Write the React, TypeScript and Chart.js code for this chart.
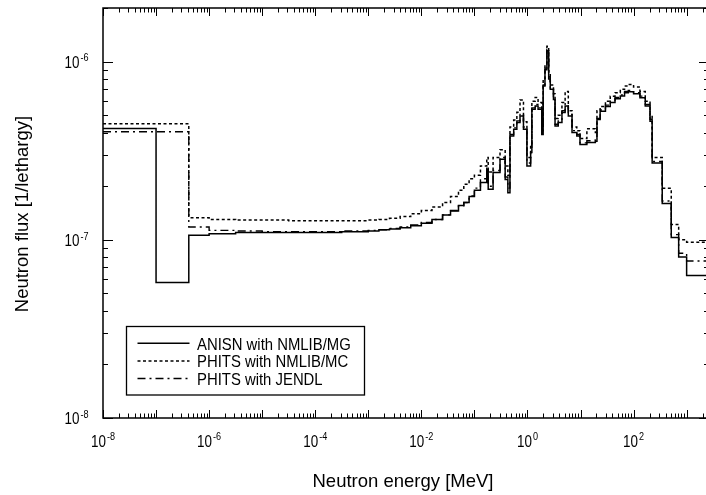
import React, { useEffect, useRef } from "react";
import { Chart, registerables } from "chart.js";

Chart.register(...registerables);

// Energy group boundaries [MeV]
const energyBounds: number[] = [
  1e-8, 1e-7, 4.14e-7, 1e-6, 3.16e-6, 1e-5, 3.16e-5, 1e-4, 3.16e-4, 1e-3,
  1.585e-3, 2.512e-3, 3.981e-3, 6.31e-3, 1e-2, 1.585e-2, 2.512e-2, 3.548e-2, 5.012e-2, 6.31e-2, 7.943e-2,
  0.1, 0.13, 0.171, 0.182, 0.225, 0.304, 0.38, 0.427, 0.468, 0.55, 0.631, 0.724, 0.841, 0.977,
  1.148, 1.211, 1.396, 1.585, 1.862, 1.977, 2.138, 2.323, 2.512, 2.692, 3.09, 3.311, 3.802, 4.467,
  5.129, 5.888, 6.918, 8.511, 9.772,
  13.18, 19.05, 20.42, 23.44, 29.51, 36.31, 44.67, 56.23, 67.61, 79.43, 100,
  131.8, 166.0, 204.2, 223.9, 346.7, 512.9, 707.9, 1000, 3000,
];

// Group fluxes [1/lethargy]
const anisnFlux: number[] = [
  4.22e-7, 0.576e-7, 1.06e-7, 1.08e-7, 1.1e-7, 1.1e-7, 1.1e-7, 1.1e-7, 1.11e-7, 1.12e-7,
  1.14e-7, 1.15e-7, 1.17e-7, 1.2e-7, 1.24e-7, 1.3e-7, 1.38e-7, 1.45e-7, 1.56e-7, 1.62e-7, 1.75e-7,
  1.9e-7, 2.1e-7, 2.49e-7, 1.92e-7, 2.39e-7, 2.83e-7, 2.18e-7, 1.84e-7, 3.82e-7, 4.17e-7, 4.56e-7, 4.95e-7, 4.17e-7,
  2.6e-7, 3.09e-7, 5.4e-7, 5.63e-7, 5.4e-7, 3.9e-7, 7.3e-7, 9.0e-7, 11.5e-7, 8.0e-7, 7.0e-7, 6.14e-7, 4.35e-7,
  4.56e-7, 5.19e-7, 5.63e-7, 4.95e-7, 4.0e-7, 3.82e-7,
  3.43e-7, 3.52e-7, 3.58e-7, 4.73e-7, 5.27e-7, 5.6e-7, 5.9e-7, 6.2e-7, 6.41e-7, 6.7e-7, 6.78e-7,
  6.6e-7, 6.28e-7, 5.63e-7, 4.63e-7, 2.7e-7, 1.6e-7, 1.03e-7, 0.8e-7, 0.63e-7,
];

const phitsNmlibFlux: number[] = [
  4.48e-7, 4.48e-7, 1.33e-7, 1.3e-7, 1.29e-7, 1.29e-7, 1.28e-7, 1.28e-7, 1.28e-7, 1.29e-7,
  1.3e-7, 1.32e-7, 1.35e-7, 1.4e-7, 1.46e-7, 1.53e-7, 1.62e-7, 1.75e-7, 1.9e-7, 2.05e-7, 2.2e-7,
  2.3e-7, 2.6e-7, 2.9e-7, 2.4e-7, 2.9e-7, 3.2e-7, 2.6e-7, 2.3e-7, 4.3e-7, 4.7e-7, 5.2e-7, 6.1e-7, 4.6e-7,
  2.9e-7, 3.4e-7, 6.0e-7, 6.3e-7, 5.9e-7, 4.3e-7, 7.9e-7, 9.6e-7, 12.2e-7, 8.6e-7, 7.4e-7, 6.6e-7, 4.8e-7,
  5.0e-7, 5.9e-7, 6.8e-7, 5.3e-7, 4.3e-7, 4.1e-7,
  3.7e-7, 4.2e-7, 4.0e-7, 5.3e-7, 5.6e-7, 6.0e-7, 6.4e-7, 6.7e-7, 7.0e-7, 7.3e-7, 7.45e-7,
  7.2e-7, 6.8e-7, 6.0e-7, 5.0e-7, 2.9e-7, 1.95e-7, 1.22e-7, 1.0e-7, 0.97e-7,
];

const phitsJendlFlux: number[] = [
  4.04e-7, 4.04e-7, 1.18e-7, 1.13e-7, 1.12e-7, 1.11e-7, 1.11e-7, 1.11e-7, 1.12e-7, 1.13e-7,
  1.14e-7, 1.16e-7, 1.18e-7, 1.21e-7, 1.25e-7, 1.3e-7, 1.38e-7, 1.46e-7, 1.55e-7, 1.62e-7, 1.76e-7,
  1.95e-7, 2.2e-7, 2.55e-7, 2.0e-7, 2.45e-7, 2.9e-7, 2.25e-7, 1.95e-7, 3.9e-7, 4.25e-7, 4.65e-7, 5.1e-7, 4.3e-7,
  2.7e-7, 3.2e-7, 5.5e-7, 5.75e-7, 5.5e-7, 4.0e-7, 7.4e-7, 9.2e-7, 11.7e-7, 8.2e-7, 7.1e-7, 6.3e-7, 4.45e-7,
  4.7e-7, 5.3e-7, 5.8e-7, 5.05e-7, 4.1e-7, 3.9e-7,
  3.5e-7, 3.6e-7, 3.65e-7, 4.8e-7, 5.35e-7, 5.7e-7, 6.0e-7, 6.3e-7, 6.5e-7, 6.8e-7, 6.9e-7,
  6.7e-7, 6.4e-7, 5.75e-7, 4.75e-7, 2.75e-7, 1.65e-7, 1.07e-7, 0.84e-7, 0.76e-7,
];

const seriesLabels = ["ANISN with NMLIB/MG", "PHITS with NMLIB/MC", "PHITS with JENDL"];
const xLabelExponents = [-8, -6, -4, -2, 0, 2];
const yLabelExponents = [-8, -7, -6];
const xTitle = "Neutron energy [MeV]";
const yTitle = "Neutron flux [1/lethargy]";

const X_MIN = 1e-8;
const X_MAX = 2.64e3;
const Y_MIN = 1e-8;
const Y_MAX = 2e-6;

const FONT = "'Liberation Sans', Arial, Helvetica, sans-serif";

function steps(bounds: number[], vals: number[]) {
  const pts: { x: number; y: number }[] = [];
  for (let i = 0; i < vals.length; i++) {
    pts.push({ x: bounds[i], y: vals[i] });
    pts.push({ x: bounds[i + 1], y: vals[i] });
  }
  return pts;
}

function drawNarrow(ctx: CanvasRenderingContext2D, text: string, x: number, y: number, size: number, sx: number) {
  ctx.save();
  ctx.translate(x, y);
  ctx.scale(sx, 1);
  ctx.font = `${size}px ${FONT}`;
  ctx.textAlign = "left";
  ctx.textBaseline = "alphabetic";
  ctx.fillText(text, 0, 0);
  ctx.restore();
}
function narrowWidth(ctx: CanvasRenderingContext2D, text: string, size: number, sx: number) {
  ctx.save();
  ctx.font = `${size}px ${FONT}`;
  const w = ctx.measureText(text).width * sx;
  ctx.restore();
  return w;
}

const BASE = 17, SUP = 11.5, SX = 0.79;

function powLabel(ctx: CanvasRenderingContext2D, exp: number, x: number, baseY: number, align: "center" | "right") {
  const b = "10";
  const e = String(exp);
  const wb = narrowWidth(ctx, b, BASE, SX);
  const we = narrowWidth(ctx, e, SUP, SX);
  const total = wb + 1 + we;
  const left = align === "center" ? x - total / 2 : x - total;
  drawNarrow(ctx, b, left, baseY, BASE, SX);
  drawNarrow(ctx, e, left + wb + 1, baseY - 6.5, SUP, SX);
}

const framePlugin = {
  id: "framePlugin",
  afterDatasetsDraw(chart: any) {
    const { ctx, chartArea: a, scales } = chart;
    const xs = scales.x;
    const ys = scales.y;
    ctx.save();
    ctx.strokeStyle = "#000";
    ctx.fillStyle = "#000";
    ctx.setLineDash([]);
    // frame
    ctx.lineWidth = 1.5;
    ctx.strokeRect(a.left, a.top, a.right - a.left, a.bottom - a.top);
    ctx.lineWidth = 1;
    const seg = (x1: number, y1: number, x2: number, y2: number) => {
      ctx.beginPath();
      ctx.moveTo(x1, y1);
      ctx.lineTo(x2, y2);
      ctx.stroke();
    };
    // x ticks
    for (let e = -9; e <= 4; e++) {
      for (let m = 1; m <= 9; m++) {
        const v = m * Math.pow(10, e);
        if (v < X_MIN * 0.999 || v > X_MAX) continue;
        const px = Math.round(xs.getPixelForValue(v)) + 0.5;
        const len = m === 1 ? 8 : 4.5;
        seg(px, a.bottom, px, a.bottom - len);
        seg(px, a.top, px, a.top + len);
      }
    }
    // y ticks
    for (let e = -9; e <= -5; e++) {
      for (let m = 1; m <= 9; m++) {
        const v = m * Math.pow(10, e);
        if (v < Y_MIN * 0.999 || v > Y_MAX * 1.001) continue;
        const py = Math.round(ys.getPixelForValue(v)) + 0.5;
        const len = m === 1 ? 10 : 5;
        seg(a.left, py, a.left + len, py);
        seg(a.right, py, a.right - len, py);
      }
    }
    // tick labels
    for (const e of xLabelExponents) {
      const px = xs.getPixelForValue(Math.pow(10, e));
      powLabel(ctx, e, px, a.bottom + 28.8, "center");
    }
    for (const e of yLabelExponents) {
      const py = ys.getPixelForValue(Math.pow(10, e));
      powLabel(ctx, e, 88.5, py + 6.2, "right");
    }
    // axis titles
    ctx.font = `18.5px ${FONT}`;
    ctx.textAlign = "center";
    ctx.textBaseline = "alphabetic";
    ctx.fillText(xTitle, 403, 486.5);
    ctx.save();
    ctx.translate(27.5, 214);
    ctx.rotate(-Math.PI / 2);
    ctx.fillText(yTitle, 0, 0);
    ctx.restore();

    // legend
    const bx = 126.5, by = 326.5, bw = 238, bh = 68.5;
    ctx.fillStyle = "#fff";
    ctx.fillRect(bx, by, bw, bh);
    ctx.fillStyle = "#000";
    ctx.lineWidth = 1.3;
    ctx.strokeRect(bx, by, bw, bh);
    const rows = [343.3, 361, 378.5];
    chart.data.datasets.forEach((ds: any, i: number) => {
      const ry = rows[i];
      ctx.save();
      ctx.lineWidth = ds.borderWidth;
      ctx.setLineDash(ds.borderDash || []);
      ctx.beginPath();
      ctx.moveTo(137.5, ry);
      ctx.lineTo(189.5, ry);
      ctx.stroke();
      ctx.restore();
      drawNarrow(ctx, ds.label, 197, ry + 6.2, 17, 0.875);
    });
    ctx.restore();
  },
};

export default function App() {
  const ref = useRef<HTMLCanvasElement | null>(null);
  useEffect(() => {
    if (!ref.current) return;
    const chart = new Chart(ref.current, {
      type: "line",
      data: {
        datasets: [
          {
            label: seriesLabels[0],
            data: steps(energyBounds, anisnFlux),
            borderColor: "#000",
            borderWidth: 1.5,
            borderDash: [],
            pointRadius: 0,
            tension: 0,
            fill: false,
          },
          {
            label: seriesLabels[1],
            data: steps(energyBounds, phitsNmlibFlux),
            borderColor: "#000",
            borderWidth: 1.5,
            borderDash: [3, 2.5],
            pointRadius: 0,
            tension: 0,
            fill: false,
          },
          {
            label: seriesLabels[2],
            data: steps(energyBounds, phitsJendlFlux),
            borderColor: "#000",
            borderWidth: 1.4,
            borderDash: [8, 4, 2, 4],
            pointRadius: 0,
            tension: 0,
            fill: false,
          },
        ],
      },
      options: {
        responsive: false,
        animation: false,
        devicePixelRatio: 1,
        layout: { padding: { left: 103, right: 3, top: 8, bottom: 77 } },
        plugins: { legend: { display: false }, tooltip: { enabled: false } },
        scales: {
          x: { type: "logarithmic", min: X_MIN, max: X_MAX, display: false },
          y: { type: "logarithmic", min: Y_MIN, max: Y_MAX, display: false },
        },
      },
      plugins: [framePlugin],
    });
    return () => chart.destroy();
  }, []);
  return (
    <div style={{ position: "absolute", left: 0, top: 0, width: 706, height: 495, overflow: "hidden", background: "#fff" }}>
      <canvas ref={ref} width={712} height={495} style={{ display: "block" }} />
    </div>
  );
}
